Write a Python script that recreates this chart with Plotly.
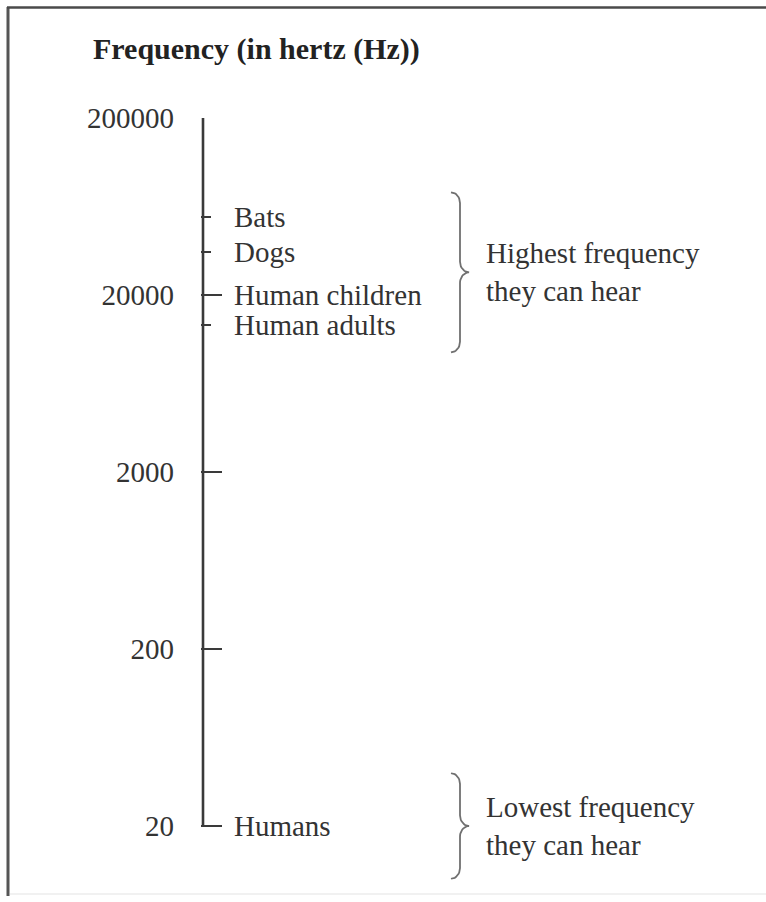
import numpy as np
import plotly.graph_objects as go

# ---- data ----
axis_ticks = [20, 200, 2000, 20000, 200000]
axis_tick_labels = ["20", "200", "2000", "20000", "200000"]

high_animals = ["Bats", "Dogs", "Human children", "Human adults"]
high_freqs = [55000, 35000, 20000, 13500]   # highest frequency heard (Hz)

low_animals = ["Humans"]
low_freqs = [20]                              # lowest frequency heard (Hz)

high_group_label = "Highest frequency<br>they can hear"
low_group_label = "Lowest frequency<br>they can hear"
title_text = "Frequency (in hertz (Hz))"

# ---- style / layout constants ----
FONT = "Liberation Serif"
TXT = "#333333"
AX = "#3a3a3a"
FS = 29
W, H = 766, 902
ML, MT, MB = 201, 118, 12
PX_PER_DEC = 177.0
y_top = np.log10(max(axis_ticks))
y_bot = np.log10(min(axis_ticks)) - 64 / PX_PER_DEC

major_set = set(axis_ticks)
minor_vals = [v for v in high_freqs + low_freqs if v not in major_set]

fig = go.Figure()

# axis spine drawn from the lowest to highest tick value
fig.add_trace(go.Scatter(
    x=[0, 0], y=[min(axis_ticks), max(axis_ticks)], mode="lines",
    line=dict(color=AX, width=2.6), hoverinfo="skip", showlegend=False))


def brace(x0, center_log, half_dec, w=9.0, r_dec=0.06, n=12):
    t = np.linspace(0, np.pi / 2, n)
    xs1 = x0 + w * np.sin(t)
    ys1 = center_log + half_dec - r_dec + r_dec * np.cos(t)
    xs2 = x0 + 2 * w - w * np.cos(t)
    ys2 = center_log + r_dec - r_dec * np.sin(t)
    xs3 = x0 + 2 * w - w * np.cos(t[::-1])
    ys3 = center_log - r_dec + r_dec * np.sin(t[::-1])
    xs4 = x0 + w * np.sin(t[::-1])
    ys4 = center_log - half_dec + r_dec - r_dec * np.cos(t[::-1])
    xs = np.concatenate([xs1, xs2, xs3, xs4])
    ys = np.concatenate([ys1, ys2, ys3, ys4])
    return xs, 10 ** ys


high_center = float(np.mean(np.log10(high_freqs)))
low_center = float(np.mean(np.log10(low_freqs)))

for center, half in [(high_center, 0.452), (low_center, 0.298)]:
    bx, by = brace(248, center, half)
    fig.add_trace(go.Scatter(
        x=bx, y=by, mode="lines", line=dict(color="#707070", width=1.8),
        hoverinfo="skip", showlegend=False))

annotations = []
for name, val in zip(high_animals + low_animals, high_freqs + low_freqs):
    annotations.append(dict(
        x=29, y=float(np.log10(val)), xref="x", yref="y", text=name,
        showarrow=False, xanchor="left", yanchor="middle",
        font=dict(family=FONT, size=FS, color=TXT)))

for label, center in [(high_group_label, high_center), (low_group_label, low_center)]:
    annotations.append(dict(
        x=281, y=center, xref="x", yref="y", text=label, align="left",
        showarrow=False, xanchor="left", yanchor="middle",
        font=dict(family=FONT, size=FS, color=TXT)))

pw = W - ML
ph = H - MT - MB


def px2paper_x(px):
    return (px - ML) / pw


def px2paper_y(py):
    return (H - MB - py) / ph


shapes = [
    dict(type="line", xref="paper", yref="paper",
         x0=px2paper_x(8), x1=px2paper_x(8), y0=px2paper_y(7), y1=px2paper_y(896),
         line=dict(color="#555555", width=3)),
    dict(type="line", xref="paper", yref="paper",
         x0=px2paper_x(7), x1=px2paper_x(W + 2), y0=px2paper_y(7.5), y1=px2paper_y(7.5),
         line=dict(color="#4a4a4a", width=2.5)),
    dict(type="line", xref="paper", yref="paper",
         x0=px2paper_x(10), x1=px2paper_x(W + 2), y0=px2paper_y(894), y1=px2paper_y(894),
         line=dict(color="#ececec", width=1.5)),
]

fig.update_layout(
    width=W, height=H,
    margin=dict(l=ML, r=0, t=MT, b=MB),
    paper_bgcolor="white", plot_bgcolor="white",
    showlegend=False,
    title=dict(text=f"<b>{title_text}</b>", x=93 / W, xanchor="left",
               y=1 - 48 / H, yanchor="middle", xref="container", yref="container",
               font=dict(family=FONT, size=30, color="#222222")),
    xaxis=dict(range=[-2, pw - 2], visible=False, fixedrange=True),
    yaxis=dict(type="log", range=[y_bot, y_top], showline=False, showgrid=False,
               zeroline=False, tickmode="array", tickvals=axis_ticks,
               ticktext=axis_tick_labels, ticks="inside", ticklen=21, tickwidth=2.4,
               tickcolor=AX, ticklabelstandoff=26,
               tickfont=dict(family=FONT, size=FS, color=TXT),
               minor=dict(tickmode="array", tickvals=minor_vals, ticks="inside",
                          ticklen=10, tickwidth=2.2, tickcolor=AX, showgrid=False),
               fixedrange=True),
    annotations=annotations,
    shapes=shapes,
)

fig.write_html("out.html", config={"displayModeBar": False},
               post_script="document.body.style.margin='0';document.body.style.overflow='hidden';")
